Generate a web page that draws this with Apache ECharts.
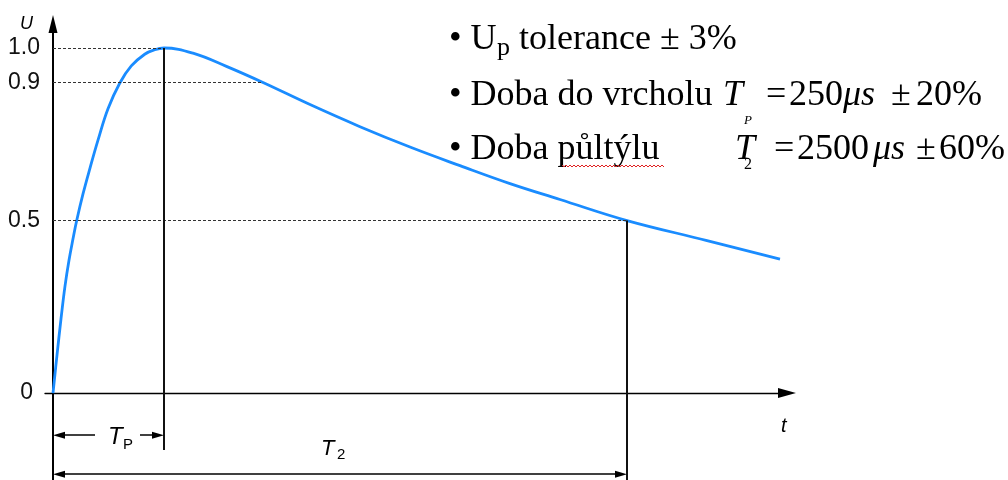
<!DOCTYPE html>
<html>
<head>
<meta charset="utf-8">
<script src="https://cdn.jsdelivr.net/npm/echarts@6/dist/echarts.min.js"></script>
<style>
html, body { margin: 0; padding: 0; background: #fff; }
#main { width: 1008px; height: 480px; }
</style>
</head>
<body>
<div id="main"></div>
<script>
// time in drawing units from origin (Tp = 111, T2 = 574), U relative to peak
var tData = [0, 4, 8, 12, 16, 20, 23.7, 30, 37, 45, 55, 66.7, 78.3, 91.7, 101.7, 111,
    140, 174, 210, 257, 307, 357, 407, 457, 507, 574, 654, 727];
var uData = [0, 0.11, 0.215, 0.31, 0.385, 0.447, 0.5, 0.577, 0.652, 0.733, 0.824, 0.898, 0.948, 0.982, 0.995, 1.0,
    0.985, 0.946, 0.9, 0.836, 0.772, 0.713, 0.659, 0.607, 0.561, 0.5, 0.442, 0.388];
var yTicks = [0, 0.5, 0.9, 1.0];
var levels = [1.0, 0.9, 0.5];      // dashed guide levels
var levelT = [111, 210, 574];      // where they meet the curve
var tP = 111, t2 = 574;
var tpRow = -0.122, t2Row = -0.235; // rows of the dimension arrows

var myChart = echarts.init(document.getElementById('main'));

var curve = [];
for (var i = 0; i < tData.length; i++) curve.push([tData[i], uData[i]]);

var dash = { color: '#333', width: 1, type: [3, 2] };
var solid = { color: '#111', width: 2, type: 'solid' };
var thin = { color: '#000', width: 1.5, type: 'solid' };

var lines = [];
levels.forEach(function (v, i) {
    lines.push([{ coord: [0, v], symbol: 'none' }, { coord: [levelT[i], v], symbol: 'none', lineStyle: dash }]);
});
lines.push([{ coord: [tP, 1.0], symbol: 'none' }, { coord: [tP, -0.165], symbol: 'none', lineStyle: solid }]);
lines.push([{ coord: [t2, 0.5], symbol: 'none' }, { coord: [t2, -0.252], symbol: 'none', lineStyle: solid }]);
// Tp arrows, split round the label
lines.push([{ coord: [6, tpRow], symbol: 'triangle' }, { coord: [42, tpRow], symbol: 'none', lineStyle: thin }]);
lines.push([{ coord: [87, tpRow], symbol: 'none' }, { coord: [tP - 6, tpRow], symbol: 'triangle', lineStyle: thin }]);
// T2 arrow
lines.push([{ coord: [6, t2Row], symbol: 'triangle' }, { coord: [t2 - 6, t2Row], symbol: 'triangle', lineStyle: thin }]);

var serif = '"Liberation Serif", "Times New Roman", serif';
var sans = '"Liberation Sans", Arial, sans-serif';
function txt(s, x, y, size, family, style) {
    return {
        type: 'text', x: x, y: y, silent: true,
        style: {
            text: s, fill: '#000', align: 'left', verticalAlign: 'middle',
            font: (style || 'normal') + ' ' + size + 'px ' + family
        }
    };
}

// red spell-check squiggle under "půltýlu"
var squiggle = [];
for (var sx = 562; sx <= 665; sx += 2) squiggle.push([sx, (sx / 2) % 2 ? 165 : 167]);

option = {
    animation: false,
    grid: { left: 45, right: 221, top: 24, bottom: 0 },
    xAxis: {
        type: 'value', min: -8, max: 734,
        axisLine: { onZero: true, symbol: ['none', 'triangle'], symbolSize: [10, 18], lineStyle: { color: '#000', width: 1.3 } },
        axisTick: { show: false }, axisLabel: { show: false }, splitLine: { show: false }
    },
    yAxis: {
        type: 'value', min: -0.252, max: 1.0696,
        axisLine: { onZero: true, symbol: ['none', 'triangle'], symbolSize: [9, 18], lineStyle: { color: '#000', width: 2 } },
        axisTick: { show: false }, splitLine: { show: false },
        axisLabel: {
            customValues: yTicks, margin: 5, color: '#111', fontSize: 23, fontFamily: sans,
            formatter: function (v) { return v === 0 ? '{z|0}' : v.toFixed(1); },
            rich: { z: { fontSize: 23, fontFamily: sans, color: '#111', padding: [0, 7, 0, 0] } }
        }
    },
    series: [{
        type: 'line', data: curve, smooth: 0.4, showSymbol: false,
        lineStyle: { color: '#1a8cff', width: 2.8 },
        markLine: {
            silent: true, symbolSize: [7, 12], label: { show: false },
            lineStyle: { color: '#000' }, emphasis: { disabled: true },
            data: lines
        }
    }],
    graphic: [
        txt('U', 20, 24, 18, sans, 'italic'),
        txt('t', 781, 426, 20, sans, 'italic'),
        txt('T', 108, 437, 24, sans, 'italic'),
        txt('P', 123, 445, 15, sans),
        txt('T', 321, 449, 22, sans, 'italic'),
        txt('2', 337, 455, 15, sans),

        txt('\u2022 U', 449, 40, 36, serif),
        txt('p', 497, 48, 26, serif),
        txt(' tolerance \u00b1 3%', 510, 40, 36, serif),

        txt('\u2022 Doba do vrcholu', 449, 96, 36, serif),
        txt('T', 723, 96, 36, serif, 'italic'),
        txt('P', 744, 121, 13, serif, 'italic'),
        txt('=', 766, 96, 36, serif),
        txt('250', 789, 96, 36, serif),
        txt('\u03bcs', 843, 96, 36, serif, 'italic'),
        txt('\u00b1', 891, 96, 36, serif),
        txt('20%', 916, 96, 36, serif),

        txt('\u2022 Doba p\u016flt\u00fdlu', 449, 150, 36, serif),
        txt('T', 735, 150, 36, serif, 'italic'),
        txt('2', 744, 165, 16, serif),
        txt('=', 774, 150, 36, serif),
        txt('2500', 797, 150, 36, serif),
        txt('\u03bcs', 873, 150, 36, serif, 'italic'),
        txt('\u00b1', 916, 150, 36, serif),
        txt('60%', 939, 150, 36, serif),
        {
            type: 'polyline', silent: true,
            shape: { points: squiggle },
            style: { stroke: '#e02020', lineWidth: 1, fill: null }
        }
    ]
};
myChart.setOption(option);
</script>
</body>
</html>
